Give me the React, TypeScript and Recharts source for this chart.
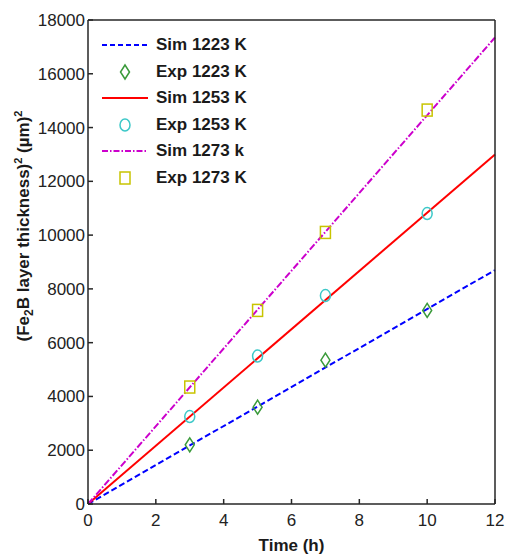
import React from 'react';
import { ComposedChart, Line, Scatter, XAxis, YAxis, Legend } from 'recharts';

const simTime = [0, 12];
const sim1223 = [0, 8700];
const sim1253 = [0, 13000];
const sim1273 = [0, 17350];

const expTime = [3, 5, 7, 10];
const exp1223 = [2200, 3600, 5350, 7200];
const exp1253 = [3250, 5500, 7750, 10800];
const exp1273 = [4350, 7200, 10100, 14650];

const xTicks = [0, 2, 4, 6, 8, 10, 12];
const yTicks = [0, 2000, 4000, 6000, 8000, 10000, 12000, 14000, 16000, 18000];

const toRows = (ts: number[], vs: number[]) => ts.map((t, i) => ({ t, v: vs[i] }));

const FONT = '"Liberation Sans", Arial, sans-serif';
const AXIS = '#262626';

const Diamond = (props: any) => {
  const { cx, cy } = props;
  return (
    <path
      d={`M${cx},${cy - 7} L${cx + 4.5},${cy} L${cx},${cy + 7} L${cx - 4.5},${cy} Z`}
      fill="none"
      stroke="#3a9a3a"
      strokeWidth={1.5}
    />
  );
};

const Circle = (props: any) => {
  const { cx, cy } = props;
  return <ellipse cx={cx} cy={cy} rx={5} ry={6} fill="none" stroke="#3cc8c8" strokeWidth={1.5} />;
};

const Square = (props: any) => {
  const { cx, cy } = props;
  return <rect x={cx - 5} y={cy - 6} width={10} height={12} fill="none" stroke="#c8c400" strokeWidth={1.5} />;
};

const legendItems = [
  { name: 'Sim 1223 K', kind: 'line', color: '#0000ff', dash: '5 3' },
  { name: 'Exp 1223 K', kind: 'diamond' },
  { name: 'Sim 1253 K', kind: 'line', color: '#ff0000', dash: undefined },
  { name: 'Exp 1253 K', kind: 'circle' },
  { name: 'Sim 1273 k', kind: 'line', color: '#cc00cc', dash: '6 2 1.5 2' },
  { name: 'Exp 1273 K', kind: 'square' },
];

const LegendBox = () => (
  <div style={{ fontFamily: FONT, fontWeight: 'bold', fontSize: 17, color: '#1a1a1a' }}>
    {legendItems.map((it) => (
      <div key={it.name} style={{ display: 'flex', alignItems: 'center', height: 26.5 }}>
        <svg width={52} height={20} style={{ marginRight: 4 }}>
          {it.kind === 'line' && (
            <line x1={2} x2={48} y1={10} y2={10} stroke={it.color} strokeWidth={2} strokeDasharray={it.dash} />
          )}
          {it.kind === 'diamond' && <Diamond cx={25} cy={10} />}
          {it.kind === 'circle' && <Circle cx={25} cy={10} />}
          {it.kind === 'square' && <Square cx={25} cy={10} />}
        </svg>
        <span>{it.name}</span>
      </div>
    ))}
  </div>
);

const YLabel = () => (
  <text
    x={0}
    y={0}
    transform="translate(29, 226) rotate(-90)"
    textAnchor="middle"
    fontFamily={FONT}
    fontWeight="bold"
    fontSize={17}
    fill="#1a1a1a"
  >
    <tspan>(Fe</tspan>
    <tspan fontSize={12} dy={4}>2</tspan>
    <tspan dy={-4}>B layer thickness)</tspan>
    <tspan fontSize={11} dy={-7}>2</tspan>
    <tspan dy={7}> (µm)</tspan>
    <tspan fontSize={11} dy={-7}>2</tspan>
  </text>
);

const NoTick = () => <g />;

export default function App() {
  const tickStyle = { fontFamily: FONT, fontSize: 17, fill: '#222' };
  return (
    <div style={{ position: 'absolute', left: 0, top: 0, width: 516, height: 558, background: '#fff' }}>
      <ComposedChart width={516} height={558} margin={{ top: 19, right: 20, left: 0, bottom: 0 }}>
        <XAxis
          xAxisId="b"
          dataKey="t"
          type="number"
          domain={[0, 12]}
          ticks={xTicks}
          height={54}
          tickSize={-5}
          tickMargin={15}
          stroke={AXIS}
          strokeWidth={1.5}
          tick={tickStyle}
          label={{
            value: 'Time (h)',
            position: 'insideBottom',
            offset: 7,
            style: { fontFamily: FONT, fontWeight: 'bold', fontSize: 17, fill: '#1a1a1a' },
          }}
        />
        <XAxis
          xAxisId="t"
          orientation="top"
          dataKey="t"
          type="number"
          domain={[0, 12]}
          ticks={xTicks}
          height={1}
          tickSize={-5}
          tick={NoTick}
          stroke={AXIS}
          strokeWidth={1.5}
        />
        <YAxis
          yAxisId="l"
          type="number"
          domain={[0, 18000]}
          ticks={yTicks}
          width={88}
          tickSize={-5}
          tickMargin={8}
          interval={0}
          stroke={AXIS}
          strokeWidth={1.5}
          tick={tickStyle}
          label={{ content: () => <YLabel /> }}
        />
        <YAxis
          yAxisId="r"
          orientation="right"
          type="number"
          domain={[0, 18000]}
          ticks={yTicks}
          interval={0}
          width={1}
          tickSize={-5}
          tick={NoTick}
          stroke={AXIS}
          strokeWidth={1.5}
        />
        <Legend
          layout="vertical"
          align="center"
          verticalAlign="middle"
          wrapperStyle={{ top: 32, left: 100, width: 'auto' }}
          content={() => <LegendBox />}
        />
        <Line
          xAxisId="b"
          yAxisId="l"
          data={toRows(simTime, sim1223)}
          dataKey="v"
          stroke="#0000ff"
          strokeWidth={2}
          strokeDasharray="6 3"
          dot={false}
          isAnimationActive={false}
        />
        <Line
          xAxisId="b"
          yAxisId="l"
          data={toRows(simTime, sim1253)}
          dataKey="v"
          stroke="#ff0000"
          strokeWidth={2}
          dot={false}
          isAnimationActive={false}
        />
        <Line
          xAxisId="b"
          yAxisId="l"
          data={toRows(simTime, sim1273)}
          dataKey="v"
          stroke="#cc00cc"
          strokeWidth={2}
          strokeDasharray="7 2 1.5 2"
          dot={false}
          isAnimationActive={false}
        />
        <Scatter xAxisId="b" yAxisId="l" data={toRows(expTime, exp1223)} dataKey="v" shape={Diamond} isAnimationActive={false} />
        <Scatter xAxisId="b" yAxisId="l" data={toRows(expTime, exp1253)} dataKey="v" shape={Circle} isAnimationActive={false} />
        <Scatter xAxisId="b" yAxisId="l" data={toRows(expTime, exp1273)} dataKey="v" shape={Square} isAnimationActive={false} />
      </ComposedChart>
    </div>
  );
}
